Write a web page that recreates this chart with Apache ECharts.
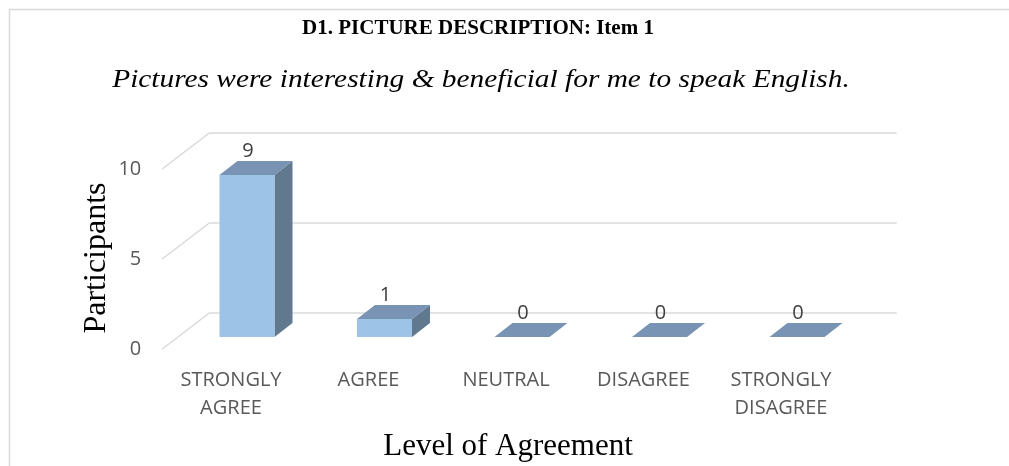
<!DOCTYPE html>
<html>
<head>
<meta charset="utf-8">
<script src="https://cdn.jsdelivr.net/npm/echarts@6/dist/echarts.min.js"></script>
<style>
  html, body { margin: 0; padding: 0; background: #fff; }
  #chart { width: 1009px; height: 466px; }
</style>
</head>
<body>
<div id="chart"></div>
<script>
// chart data
const categories = ['STRONGLY AGREE', 'AGREE', 'NEUTRAL', 'DISAGREE', 'STRONGLY DISAGREE']
const participants = [9, 1, 0, 0, 0]
const yTicks = [0, 5, 10]

// 3D look (pixel offsets for depth)
const WALL = [47, -36]      // front floor edge -> back wall
const BAR_FRONT = [16, -12] // front floor edge -> bar front face
const BAR_DEPTH = [18, -14] // bar front face -> bar back face

const COLORS = {
  front: '#9dc3e6',
  side: '#61798f',
  top: '#7893b3',
  grid: '#d9d9d9',
  label: '#595959'
}

const chart = echarts.init(document.getElementById('chart'))

const option = {
  animation: false,
  backgroundColor: '#fff',
  grid: [
    { left: 162.25, right: 159.25, top: 169, bottom: 117 },
    { left: 209.25, right: 112.25, top: 133, bottom: 153 }
  ],
  xAxis: [
    {
      type: 'category',
      gridIndex: 0,
      data: categories,
      axisLine: { show: false },
      axisTick: { show: false },
      axisLabel: {
        interval: 0,
        margin: 17,
        color: COLORS.label,
        fontFamily: 'Open Sans',
        fontSize: 20,
        lineHeight: 28,
        formatter: v => v.replace(' ', '\n')
      }
    },
    { type: 'category', gridIndex: 1, data: categories, show: false }
  ],
  yAxis: [
    {
      type: 'value',
      gridIndex: 0,
      min: 0,
      max: 10,
      interval: 5,
      axisLine: { show: false },
      axisTick: { show: false },
      splitLine: { show: false },
      axisLabel: {
        margin: 21,
        color: COLORS.label,
        fontFamily: 'Open Sans',
        fontSize: 20
      }
    },
    {
      type: 'value',
      gridIndex: 1,
      min: 0,
      max: 10,
      interval: 5,
      axisLine: { show: false },
      axisTick: { show: false },
      axisLabel: { show: false },
      splitLine: { lineStyle: { color: COLORS.grid, width: 1.5 } }
    }
  ],
  graphic: [
    {
      type: 'rect',
      shape: { x: 9.5, y: 9.5, width: 1100, height: 600 },
      style: { fill: 'none', stroke: '#d9d9d9', lineWidth: 1.5 },
      silent: true
    },
    {
      type: 'text',
      x: 478, y: 29,
      style: {
        text: 'D1. PICTURE DESCRIPTION: Item 1',
        font: 'bold 21px "Liberation Serif"',
        fill: '#000',
        textAlign: 'center',
        textVerticalAlign: 'middle'
      }
    },
    {
      type: 'text',
      x: 481, y: 80,
      scaleX: 1.13,
      style: {
        text: 'Pictures were interesting & beneficial for me to speak English.',
        font: 'italic 26px "Liberation Serif"',
        fill: '#000',
        textAlign: 'center',
        textVerticalAlign: 'middle'
      }
    },
    {
      type: 'text',
      x: 97, y: 258,
      rotation: Math.PI / 2,
      style: {
        text: 'Participants',
        font: '32px "Liberation Serif"',
        fill: '#000',
        textAlign: 'center',
        textVerticalAlign: 'middle'
      }
    },
    {
      type: 'text',
      x: 508, y: 447,
      style: {
        text: 'Level of Agreement',
        font: '31px "Liberation Serif"',
        fill: '#000',
        textAlign: 'center',
        textVerticalAlign: 'middle'
      }
    }
  ],
  series: [
    {
      // diagonal side-wall lines joining front ticks to back gridlines
      type: 'custom',
      xAxisIndex: 0,
      yAxisIndex: 0,
      clip: false,
      silent: true,
      data: yTicks.map(v => [0, v]),
      renderItem: (params, api) => {
        const p = api.coord([0, api.value(1)])
        const left = p[0] - api.size([1, 0])[0] / 2
        return {
          type: 'line',
          shape: { x1: left, y1: p[1], x2: left + WALL[0], y2: p[1] + WALL[1] },
          style: { stroke: COLORS.grid, lineWidth: 1.5 }
        }
      }
    },
    {
      type: 'custom',
      xAxisIndex: 0,
      yAxisIndex: 0,
      clip: false,
      data: participants.map((v, i) => [i, v]),
      renderItem: (params, api) => {
        const base = api.coord([api.value(0), 0])
        const top = api.coord([api.value(0), api.value(1)])
        const w = api.size([1, 0])[0] * 0.4
        const cx = base[0] + BAR_FRONT[0]
        const x0 = cx - w / 2
        const x1 = cx + w / 2
        const y0 = base[1] + BAR_FRONT[1]
        const y1 = top[1] + BAR_FRONT[1]
        const dx = BAR_DEPTH[0]
        const dy = BAR_DEPTH[1]
        return {
          type: 'group',
          children: [
            {
              type: 'polygon',
              shape: { points: [[x1, y0], [x1 + dx, y0 + dy], [x1 + dx, y1 + dy], [x1, y1]] },
              style: { fill: COLORS.side }
            },
            {
              type: 'rect',
              shape: { x: x0, y: y1, width: w, height: y0 - y1 },
              style: { fill: COLORS.front }
            },
            {
              type: 'polygon',
              shape: { points: [[x0, y1], [x1, y1], [x1 + dx, y1 + dy], [x0 + dx, y1 + dy]] },
              style: { fill: COLORS.top }
            },
            {
              type: 'text',
              x: cx + 1,
              y: y1 + dy - 10,
              style: {
                text: String(api.value(1)),
                font: '20px "Open Sans"',
                fill: '#404040',
                textAlign: 'center',
                textVerticalAlign: 'middle'
              }
            }
          ]
        }
      }
    }
  ]
}

chart.setOption(option)
</script>
</body>
</html>
